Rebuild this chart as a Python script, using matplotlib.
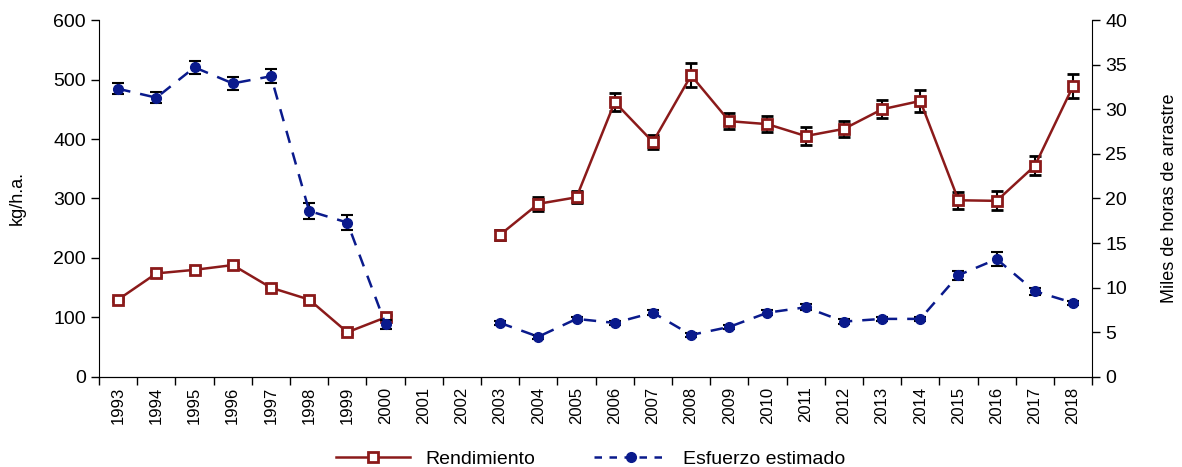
import numpy as np
import matplotlib
matplotlib.use("Agg")
import matplotlib.pyplot as plt
from matplotlib.lines import Line2D

plt.rcParams['font.family'] = ['Liberation Sans', 'DejaVu Sans']

years = [str(y) for y in range(1993, 2019)]
nan = np.nan
rendimiento = [130, 174, 180, 188, 150, 130, 75, 100, nan, nan,
               239, 291, 302, 462, 395, 507, 430, 425, 405, 417,
               450, 464, 297, 296, 355, 489]
rend_err = [3, 4, 4, 4, 3, 3, 3, 4, nan, nan,
            8, 12, 10, 15, 12, 20, 13, 13, 15, 13,
            15, 18, 14, 16, 16, 20]
esfuerzo = [32.3, 31.3, 34.7, 32.9, 33.7, 18.6, 17.3, 5.9, nan, nan,
            6.05, 4.5, 6.5, 6.05, 7.2, 4.7, 5.6, 7.2, 7.8, 6.2,
            6.5, 6.5, 11.4, 13.2, 9.6, 8.3]
esf_err = [0.6, 0.6, 0.7, 0.7, 0.8, 0.9, 0.8, 0.5, nan, nan,
           0.25, 0.25, 0.25, 0.25, 0.25, 0.25, 0.25, 0.25, 0.35, 0.25,
           0.25, 0.25, 0.5, 0.8, 0.4, 0.25]

red = '#8B1A1A'
blue = '#0A1A8C'

fig = plt.figure(figsize=(11.82, 4.67), dpi=100)
ax = fig.add_axes([0.0838, 0.193, 0.924 - 0.0838, 0.957 - 0.193])
ax2 = ax.twinx()

x = np.arange(len(years))

ax.errorbar(x, rendimiento, yerr=rend_err, color=red, lw=1.8, marker='s', ms=7,
            mfc='white', mec=red, mew=2, ecolor='black', elinewidth=1.5,
            capsize=4, capthick=1.5, zorder=3)
ax2.errorbar(x, esfuerzo, yerr=esf_err, color=blue, lw=1.8, ls=(0, (5, 4)), marker='o', ms=7,
             mfc=blue, mec=blue, ecolor='black', elinewidth=1.5,
             capsize=4, capthick=1.5, zorder=3)

ax.set_xlim(-0.5, len(years) - 0.5)
ax.set_ylim(0, 600)
ax2.set_ylim(0, 40)
ax.set_yticks(range(0, 601, 100))
ax2.set_yticks(range(0, 41, 5))

ax.set_xticks(np.arange(-0.5, len(years), 1.0))
ax.set_xticklabels([])
ax.set_xticks(x, minor=True)
ax.set_xticklabels(years, minor=True, rotation=90, fontsize=12)
ax.tick_params(axis='x', which='major', direction='out', length=6, width=1)
ax.tick_params(axis='x', which='minor', length=0, pad=7)

ax.tick_params(axis='y', direction='out', length=6, width=1, labelsize=14)
ax2.tick_params(axis='y', direction='out', length=6, width=1, labelsize=14)

ax.set_ylabel('kg/h.a.', fontsize=13, labelpad=20)
ax2.set_ylabel('Miles de horas de arrastre', fontsize=13, labelpad=24)

for a in (ax, ax2):
    a.spines['top'].set_visible(False)
ax.spines['right'].set_visible(False)
ax2.spines['left'].set_visible(False)

handles = [Line2D([], [], color=red, lw=1.8, marker='s', ms=7, mfc='white', mec=red, mew=2),
           Line2D([], [], color=blue, lw=1.8, ls=(0, (3, 3)), marker='o', ms=7, mfc=blue, mec=blue)]
fig.legend(handles, ['Rendimiento', 'Esfuerzo estimado'], loc='lower center', ncol=2, frameon=False,
           fontsize=14, bbox_to_anchor=(0.5, -0.04), columnspacing=3, handlelength=3.8)

fig.savefig('out.png', dpi=100)
